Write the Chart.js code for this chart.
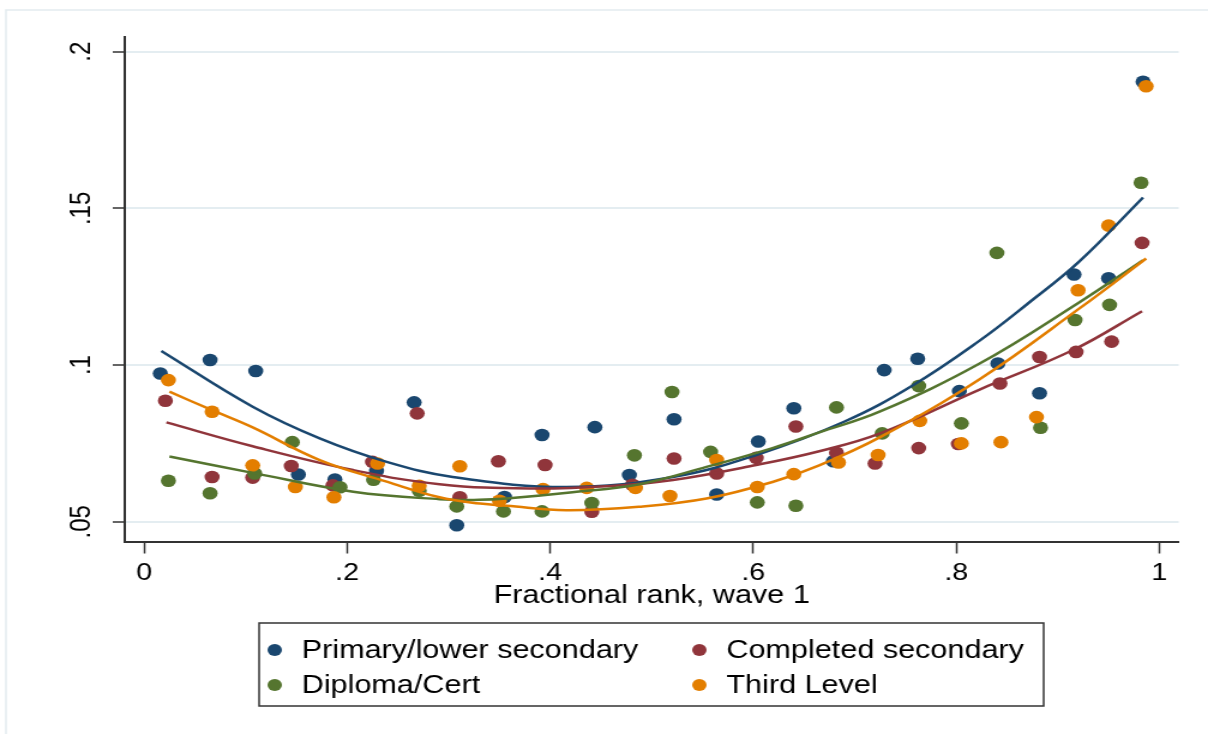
<!DOCTYPE html>
<html>
<head>
<meta charset="utf-8">
<title>Fractional rank, wave 1</title>
<script src="https://cdn.jsdelivr.net/npm/chart.js@4.4.1/dist/chart.umd.min.js"></script>
<style>
  html, body { margin: 0; padding: 0; background: #fff; }
  canvas { display: block; }
</style>
</head>
<body>
<!-- drawn at 1007 px wide and shown at 1208: the reference is stretched sideways -->
<canvas id="chart" width="1007" height="734" style="width:1208px;height:734px"></canvas>
<script>
// series labels
const seriesNames = ['Primary/lower secondary', 'Completed secondary', 'Diploma/Cert', 'Third Level'];

// scatter points (bin means)
const primaryX = [0.016, 0.065, 0.110, 0.152, 0.188, 0.229, 0.266, 0.308, 0.355, 0.392, 0.444, 0.478, 0.522, 0.564, 0.605, 0.640, 0.679, 0.729, 0.762, 0.803, 0.841, 0.882, 0.916, 0.950, 0.984];
const primaryY = [0.0973, 0.1016, 0.0981, 0.0651, 0.0635, 0.0662, 0.0881, 0.0489, 0.0579, 0.0777, 0.0802, 0.0649, 0.0827, 0.0587, 0.0756, 0.0862, 0.0693, 0.0984, 0.1020, 0.0917, 0.1005, 0.0910, 0.1289, 0.1277, 0.1904];

const secondaryX = [0.021, 0.067, 0.107, 0.145, 0.186, 0.225, 0.269, 0.311, 0.349, 0.395, 0.441, 0.481, 0.522, 0.564, 0.603, 0.642, 0.682, 0.720, 0.763, 0.802, 0.843, 0.882, 0.918, 0.953, 0.983];
const secondaryY = [0.0886, 0.0643, 0.0641, 0.0678, 0.0616, 0.0691, 0.0846, 0.0578, 0.0693, 0.0681, 0.0532, 0.0618, 0.0702, 0.0654, 0.0704, 0.0804, 0.0720, 0.0686, 0.0735, 0.0748, 0.0941, 0.1026, 0.1042, 0.1075, 0.1390];

const diplomaX = [0.024, 0.065, 0.109, 0.146, 0.193, 0.226, 0.271, 0.308, 0.354, 0.392, 0.441, 0.483, 0.520, 0.558, 0.604, 0.642, 0.682, 0.727, 0.763, 0.805, 0.840, 0.883, 0.917, 0.951, 0.982];
const diplomaY = [0.0631, 0.0591, 0.0654, 0.0754, 0.0610, 0.0634, 0.0599, 0.0549, 0.0533, 0.0533, 0.0560, 0.0712, 0.0914, 0.0723, 0.0562, 0.0551, 0.0865, 0.0782, 0.0933, 0.0814, 0.1358, 0.0800, 0.1144, 0.1192, 0.1582];

const thirdX = [0.024, 0.067, 0.107, 0.149, 0.187, 0.230, 0.271, 0.311, 0.350, 0.393, 0.436, 0.484, 0.518, 0.564, 0.604, 0.640, 0.684, 0.723, 0.764, 0.805, 0.844, 0.879, 0.920, 0.950, 0.987];
const thirdY = [0.0952, 0.0851, 0.0680, 0.0611, 0.0578, 0.0686, 0.0615, 0.0677, 0.0567, 0.0604, 0.0608, 0.0608, 0.0582, 0.0697, 0.0611, 0.0652, 0.0689, 0.0713, 0.0822, 0.0750, 0.0754, 0.0834, 0.1239, 0.1445, 0.1890];

// quadratic fit lines
const primaryFitX = [0.017, 0.107, 0.173, 0.239, 0.304, 0.416, 0.521, 0.603, 0.690, 0.757, 0.823, 0.870, 0.921, 0.984];
const primaryFitY = [0.1045, 0.0867, 0.0766, 0.0691, 0.0643, 0.0611, 0.0643, 0.0713, 0.0820, 0.0935, 0.1078, 0.1195, 0.1330, 0.1535];

const secondaryFitX = [0.022, 0.107, 0.206, 0.291, 0.380, 0.460, 0.521, 0.603, 0.665, 0.725, 0.823, 0.915, 0.983];
const secondaryFitY = [0.0817, 0.0741, 0.0665, 0.0620, 0.0606, 0.0614, 0.0633, 0.0681, 0.0725, 0.0782, 0.0922, 0.1048, 0.1172];

const diplomaFitX = [0.025, 0.107, 0.206, 0.291, 0.330, 0.357, 0.422, 0.488, 0.554, 0.619, 0.665, 0.725, 0.823, 0.921, 0.984];
const diplomaFitY = [0.0708, 0.0656, 0.0596, 0.0572, 0.0570, 0.0574, 0.0594, 0.0620, 0.0675, 0.0735, 0.0785, 0.0852, 0.1005, 0.1200, 0.1335];

const thirdFitX = [0.025, 0.067, 0.107, 0.173, 0.239, 0.291, 0.331, 0.357, 0.416, 0.488, 0.554, 0.619, 0.665, 0.725, 0.823, 0.921, 0.987];
const thirdFitY = [0.0915, 0.0856, 0.0801, 0.0697, 0.0628, 0.0578, 0.0558, 0.0551, 0.0537, 0.0548, 0.0574, 0.0627, 0.0680, 0.0770, 0.0955, 0.1180, 0.1340];

// axis ticks
const xTicks = [0, 0.2, 0.4, 0.6, 0.8, 1];
const yTicks = [0.05, 0.1, 0.15, 0.2];

const colors = ['#1a476f', '#90353b', '#55752f', '#e37e00'];

const toPoints = (xs, ys) => xs.map((x, i) => ({ x, y: ys[i] }));
// stata style labels: .2, .05, 0, 1
const stataLabel = v => (v === 0 ? '0' : String(v).replace(/^0\./, '.'));

const scatterSets = [
    [primaryX, primaryY], [secondaryX, secondaryY], [diplomaX, diplomaY], [thirdX, thirdY]
].map(([xs, ys], i) => ({
    type: 'scatter',
    label: seriesNames[i],
    data: toPoints(xs, ys),
    backgroundColor: colors[i],
    borderWidth: 0,
    pointRadius: 6.3,
    pointHoverRadius: 6.3,
    order: 8 - i
}));

const fitSets = [
    [primaryFitX, primaryFitY], [secondaryFitX, secondaryFitY], [diplomaFitX, diplomaFitY], [thirdFitX, thirdFitY]
].map(([xs, ys], i) => ({
    type: 'line',
    label: seriesNames[i] + ' fit',
    data: toPoints(xs, ys),
    borderColor: colors[i],
    borderWidth: 2.5,
    pointRadius: 0,
    fill: false,
    tension: 0.4,
    order: 4 - i
}));

// outer graph border + boxed two column legend, stata look
const stataDecor = {
    id: 'stataDecor',
    beforeDraw(chart) {
        const ctx = chart.ctx;
        ctx.save();
        ctx.fillStyle = '#ffffff';
        ctx.fillRect(0, 0, chart.width, chart.height);
        ctx.strokeStyle = '#e3ecef';
        ctx.lineWidth = 1.5;
        ctx.beginPath();
        ctx.moveTo(5, chart.height);
        ctx.lineTo(5, 10);
        ctx.lineTo(chart.width, 10);
        ctx.stroke();
        ctx.restore();
    },
    afterDraw(chart) {
        const ctx = chart.ctx;
        const box = { left: 216, top: 623, right: 870, bottom: 706 };
        const colX = [229, 583];
        const rowY = [650, 685];
        ctx.save();
        ctx.strokeStyle = '#333';
        ctx.lineWidth = 1.5;
        ctx.strokeRect(box.left, box.top, box.right - box.left, box.bottom - box.top);
        ctx.font = "25.5px 'Liberation Sans', Arial, sans-serif";
        ctx.textBaseline = 'middle';
        ctx.textAlign = 'left';
        chart.data.datasets.slice(0, 4).forEach((ds, i) => {
            const cx = colX[i % 2];
            const cy = rowY[Math.floor(i / 2)];
            ctx.fillStyle = ds.backgroundColor;
            ctx.beginPath();
            ctx.arc(cx, cy, 6, 0, Math.PI * 2);
            ctx.fill();
            ctx.fillStyle = '#000';
            ctx.fillText(ds.label, cx + 22.5, cy + 1);
        });
        ctx.restore();
    }
};

Chart.defaults.font.family = "'Liberation Sans', Arial, sans-serif";
Chart.defaults.color = '#000';

new Chart(document.getElementById('chart'), {
    type: 'scatter',
    data: { datasets: [...scatterSets, ...fitSets] },
    options: {
        responsive: false,
        animation: false,
        devicePixelRatio: 1,
        events: [],
        layout: { padding: { left: 0, top: 37, right: 24.5, bottom: 122.5 } },
        plugins: {
            legend: { display: false },
            tooltip: { enabled: false }
        },
        scales: {
            x: {
                type: 'linear',
                min: -0.019,
                max: 1.019,
                afterBuildTicks: s => { s.ticks = xTicks.map(v => ({ value: v })); },
                afterFit: s => { s.height = 70; },
                border: { color: '#333', width: 2 },
                grid: { drawOnChartArea: false, tickLength: 12, tickColor: '#333', tickWidth: 1.5 },
                ticks: { padding: 5, maxRotation: 0, font: { size: 24 }, color: '#000', callback: stataLabel },
                title: {
                    display: true,
                    text: 'Fractional rank, wave 1',
                    font: { size: 25.5 },
                    color: '#000',
                    padding: { top: 0, bottom: 0 }
                }
            },
            y: {
                type: 'linear',
                min: 0.0437,
                max: 0.2047,
                afterBuildTicks: s => { s.ticks = yTicks.map(v => ({ value: v })); },
                afterFit: s => { s.width = 104; },
                border: { color: '#333', width: 2 },
                grid: { color: '#e4edf1', lineWidth: 2, tickLength: 10, tickColor: '#333', tickWidth: 1.5 },
                ticks: {
                    minRotation: 90,
                    maxRotation: 90,
                    crossAlign: 'center',
                    padding: 9,
                    font: { size: 24 },
                    color: '#000',
                    callback: stataLabel
                }
            }
        }
    },
    plugins: [stataDecor]
});
</script>
</body>
</html>
